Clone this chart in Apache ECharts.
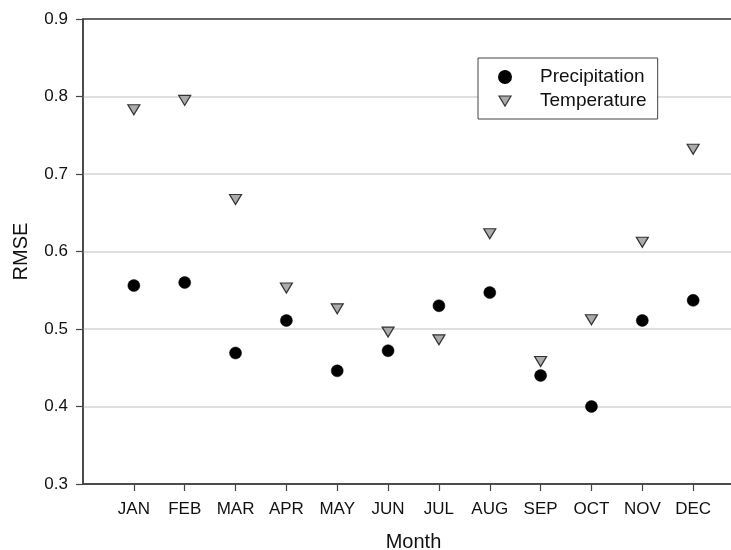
<!DOCTYPE html>
<html>
<head>
<meta charset="utf-8">
<script src="https://cdn.jsdelivr.net/npm/echarts@6/dist/echarts.min.js"></script>
<style>
html,body{margin:0;padding:0;background:#fff;}
#c{width:731px;height:550px;}
</style>
</head>
<body>
<div id="c"></div>
<script>
const months = ['JAN','FEB','MAR','APR','MAY','JUN','JUL','AUG','SEP','OCT','NOV','DEC'];
const precipitation = [0.556,0.560,0.469,0.511,0.446,0.472,0.530,0.547,0.440,0.400,0.511,0.537];
const temperature = [0.783,0.795,0.667,0.553,0.526,0.496,0.486,0.623,0.458,0.512,0.612,0.732];
const yTicks = [0.3,0.4,0.5,0.6,0.7,0.8,0.9];

const monthPos = months.map((m,i)=>i+1);
const font = '"Liberation Sans", Arial, sans-serif';
const downTri = 'path://M0,0L12,0L6,10Z';
const chart = echarts.init(document.getElementById('c'), null, {renderer:'canvas'});
chart.setOption({
  animation:false,
  backgroundColor:'#fff',
  textStyle:{fontFamily:font},
  grid:{left:83, top:19, width:661, height:465, outerBoundsMode:'none', containLabel:false,
        show:true, borderColor:'#333', borderWidth:1.5, backgroundColor:'transparent'},
  legend:{
    orient:'vertical', left:478, top:58,
    padding:[9,11,8,20], itemGap:4, itemWidth:12, itemHeight:12,
    borderColor:'#444', borderWidth:1, backgroundColor:'#fff',
    textStyle:{fontSize:19, lineHeight:20, color:'#111', fontFamily:font, padding:[0,0,0,24]},
    data:[{name:'Precipitation', icon:'circle'},{name:'Temperature', icon:downTri, itemStyle:{color:'#ababab', borderColor:'#333', borderWidth:1.2}}]
  },
  xAxis:{
    type:'value', min:0, max:13, interval:1,
    name:'Month', nameLocation:'middle', nameGap:48,
    nameTextStyle:{fontSize:20, color:'#111', fontFamily:font},
    axisLine:{show:true, lineStyle:{color:'#444', width:1.5}},
    axisTick:{show:true, length:7, customValues:monthPos, lineStyle:{color:'#444', width:1.2}},
    axisLabel:{customValues:monthPos, formatter:v=>months[v-1]||'', fontSize:17, color:'#111', margin:17, fontFamily:font},
    splitLine:{show:false}
  },
  yAxis:{
    type:'value', min:yTicks[0], max:yTicks[yTicks.length-1], interval:0.1,
    name:'RMSE', nameLocation:'middle', nameGap:52, nameRotate:90,
    nameTextStyle:{fontSize:20, color:'#111', fontFamily:font},
    axisLine:{show:true, lineStyle:{color:'#444', width:1.5}},
    axisTick:{show:true, length:7, lineStyle:{color:'#444', width:1.2}},
    axisLabel:{fontSize:17, color:'#111', margin:15, fontFamily:font, formatter:v=>v.toFixed(1)},
    splitLine:{show:true, showMinLine:false, showMaxLine:false, lineStyle:{color:'#d4d4d4', width:1.5}}
  },
  series:[
    {name:'Precipitation', type:'scatter', symbol:'circle', symbolSize:12,
     itemStyle:{color:'#000', borderColor:'#000', borderWidth:0.5, opacity:1},
     data:precipitation.map((v,i)=>[monthPos[i], v]), z:3},
    {name:'Temperature', type:'scatter', symbol:'triangle', symbolRotate:180, symbolSize:[12,10],
     itemStyle:{color:'#ababab', borderColor:'#333', borderWidth:1.2, opacity:1},
     data:temperature.map((v,i)=>[monthPos[i], v]), z:2}
  ]
});
</script>
</body>
</html>
